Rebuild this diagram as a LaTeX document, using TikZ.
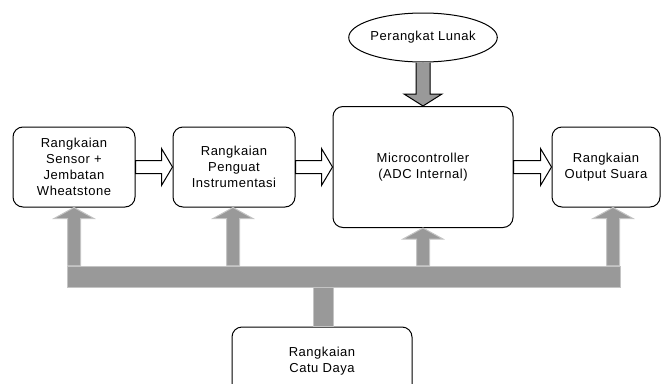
\documentclass[tikz,border=0pt]{standalone}
\usepackage{fontspec}
\setmainfont{Liberation Sans}[LetterSpace=4]
\usetikzlibrary{calc,shapes.geometric}
\definecolor{bar}{HTML}{999999}
\definecolor{barline}{HTML}{C4C4C4}

\begin{document}
\begin{tikzpicture}[x=1pt,y=-1pt]
	\tikzstyle{blk}=[draw,line width=1pt,rounded corners=10pt,fill=white,align=center,inner sep=0pt,font=\fontsize{13}{16}\selectfont]
	\tikzstyle{oval}=[draw,ellipse,line width=1pt,fill=white,inner sep=0pt,font=\fontsize{13}{16}\selectfont]
	\tikzstyle{hollow}=[draw,line width=1pt,fill=white]
	\tikzstyle{power}=[draw=barline,line width=1pt,fill=bar]
	\tikzstyle{soft}=[draw,line width=1pt,fill=bar]

	\useasboundingbox (0,0) rectangle (661,383);

	\node[blk,minimum width=122,minimum height=80] (sensor) at (74,167) {Rangkaian\\Sensor +\\Jembatan\\Wheatstone};
	\node[blk,minimum width=122,minimum height=80] (penguat) at (234,167) {Rangkaian\\Penguat\\Instrumentasi};
	\node[blk,minimum width=180,minimum height=121] (mikro) at (423,167) {Microcontroller\\(ADC Internal)};
	\node[blk,minimum width=108,minimum height=80] (output) at (606,167) {Rangkaian\\Output Suara};
	\node[oval,minimum width=141,minimum height=49] (lunak) at (423,37.5) {Perangkat Lunak};
	\node[blk,minimum width=180,minimum height=68] (catu) at (322,361) {Rangkaian\\Catu Daya};
	\node[power,minimum width=553,minimum height=21,inner sep=0pt] (bus) at (343.5,276.5) {};

	% block arrows between the stages
	\foreach \from/\to in {sensor/penguat,penguat/mikro,mikro/output}
	\draw[hollow] ($(\from.east)+(0,-6.5)$) -- ($(\to.west)+(-11,-6.5)$) -- ($(\to.west)+(-11,-18.5)$) -- (\to.west) -- ($(\to.west)+(-11,18.5)$) -- ($(\to.west)+(-11,6.5)$) -- ($(\from.east)+(0,6.5)$) -- cycle;

	% supply lines
	\foreach \to/\dx in {sensor/0,penguat/-1,mikro/0,output/7}
	\draw[power] ($(\to.south |- bus.north)+(\dx-6.5,0)$) -- ($(\to.south)+(\dx-6.5,11)$) -- ($(\to.south)+(\dx-20,11)$) -- ($(\to.south)+(\dx,0)$) -- ($(\to.south)+(\dx+20,11)$) -- ($(\to.south)+(\dx+6.5,11)$) -- ($(\to.south |- bus.north)+(\dx+6.5,0)$);
	\draw[power] ($(catu.north)+(-9,0)$) rectangle ($(catu.north |- bus.south)+(11,0)$);

	\draw[soft] ($(lunak.south)+(-7,0)$) -- ($(mikro.north)+(-7,-12)$) -- ($(mikro.north)+(-19,-12)$) -- (mikro.north) -- ($(mikro.north)+(19,-12)$) -- ($(mikro.north)+(7,-12)$) -- ($(lunak.south)+(7,0)$);
\end{tikzpicture}
\end{document}
